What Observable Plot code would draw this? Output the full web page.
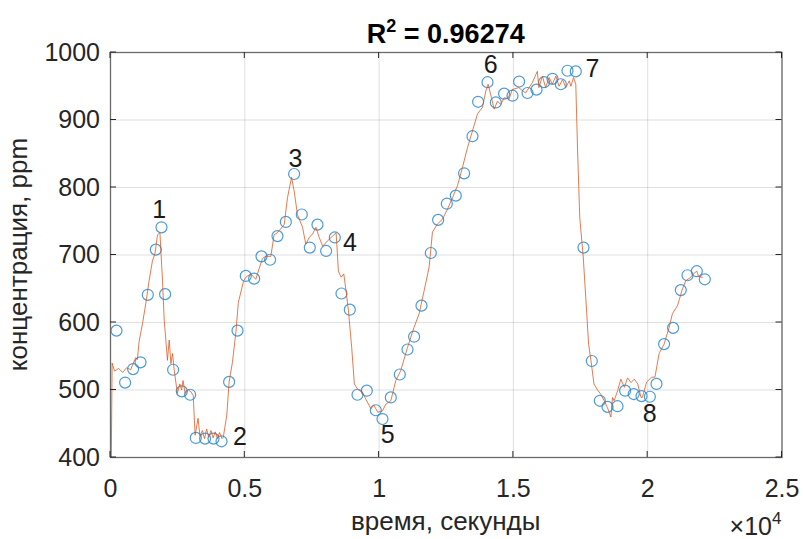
<!DOCTYPE html>
<html><head><meta charset="utf-8">
<script src="https://cdn.jsdelivr.net/npm/d3@7"></script>
<script src="https://cdn.jsdelivr.net/npm/@observablehq/plot@0.6"></script>
<style>body{margin:0;background:#fff} svg{display:block}</style>
</head><body><div id="chart"></div>
<script>
// Measured samples (circles)
const pointTime = [223,544,842,1117,1389,1687,1898,2033,2331,2655,2965,3176,3522,3835,4133,4416,4728,5037,5347,5622,5942,6217,6527,6836,7122,7420,7706,8027,8351,8600,8909,9196,9542,9877,10126,10436,10771,11057,11303,11578,11925,12197,12521,12856,13165,13477,13686,14036,14345,14654,14967,15212,15525,15860,16143,16456,16765,17014,17323,17610,17919,18217,18504,18876,19160,19480,19770,20080,20327,20610,20946,21232,21482,21828,22126];
const pointValue = [588,511,531,541,641,708,741,642,530,498,493,429,428,428,424,512,588,669,665,698,693,728,749,820,760,711,745,706,726,643,619,493,499,470,457,489,523,560,579,625,703,752,776,788,821,876,927,956,926,939,936,957,940,945,956,961,953,973,972,711,543,484,475,476,499,494,491,490,509,568,592,648,670,676,664];
// Model curve (orange line)
const lineTime = [30,60,150,300,450,600,750,850,940,1000,1065,1190,1330,1437,1560,1660,1750,1840,1936,2000,2060,2120,2185,2250,2310,2370,2490,2580,2650,2700,2780,2900,3000,3080,3150,3260,3330,3420,3500,3580,3660,3740,3820,3900,3980,4060,4150,4200,4330,4416,4540,4670,4760,4830,4950,5037,5223,5410,5534,5660,5780,5970,6090,6217,6466,6590,6740,6836,6960,7150,7270,7400,7520,7650,7770,7900,8080,8270,8400,8485,8585,8685,8770,8860,8980,9080,9200,9390,9510,9700,9800,9950,10126,10250,10436,10622,10808,11057,11303,11490,11676,11862,11987,12173,12360,12546,12733,12919,13105,13291,13477,13663,13850,13974,14060,14184,14283,14407,14531,14655,14841,14953,15200,15450,15700,15890,15950,16080,16200,16330,16450,16580,16700,16830,16950,17080,17140,17240,17323,17390,17470,17600,17700,17800,17900,18000,18130,18250,18380,18500,18630,18690,18750,18880,19000,19130,19250,19380,19500,19630,19750,19800,19962,20150,20270,20425,20610,20800,20920,21110,21295,21420,21600,21700,21828,21900,22040];
const lineValue = [400,540,528,532,526,533,530,540,548,545,572,598,632,662,691,703,730,733,662,603,574,544,574,539,554,530,495,509,500,514,495,500,497,492,433,458,432,440,428,442,430,440,429,438,428,437,428,430,463,512,541,586,630,641,661,667,672,664,680,695,698,698,730,733,745,785,815,795,760,741,716,726,731,741,726,713,721,728,733,676,667,672,647,617,563,509,501,496,486,472,478,467,469,479,484,514,529,563,593,613,647,682,734,746,753,768,785,803,830,859,884,909,919,943,953,933,916,928,923,933,931,945,948,940,955,972,948,965,948,963,953,965,950,960,948,958,950,963,953,854,756,697,633,568,540,509,500,494,484,474,460,489,484,499,516,504,518,511,516,509,489,489,512,519,519,554,568,593,613,625,650,662,667,672,676,668,667];
// Peak annotations
const peakLabels = ["1","2","3","4","5","6","7","8"];
const peakTime = [1809,4820,6888,8917,10324,14158,17945,20071];
const peakValue = [767,431,842,718,434,982,975,464];
// Axes
const xTicks = [0,5000,10000,15000,20000,25000];
const xTickLabels = ["0","0.5","1","1.5","2","2.5"];
const yTicks = [400,500,600,700,800,900,1000];
const yTickLabels = ["400","500","600","700","800","900","1000"];
const titleMain = "R";
const titleSup = "2";
const titleRest = " = 0.96274";
const xLabel = "время, секунды";
const yLabel = "концентрация, ppm";
const xExpBase = "×10";
const xExpPow = "4";

const points = pointTime.map((t,i)=>({t, v: pointValue[i]}));
const curve = lineTime.map((t,i)=>({t, v: lineValue[i]}));
const labels = peakLabels.map((s,i)=>({s, t: peakTime[i], v: peakValue[i]}));

const W = 803, H = 539, mL = 110, mR = 21.5, mT = 52, mB = 82;
const font = "'Liberation Sans', Arial, Helvetica, sans-serif";
const ink = "#262626";

const chart = Plot.plot({
  width: W, height: H,
  marginLeft: mL, marginRight: mR, marginTop: mT, marginBottom: mB,
  style: {fontFamily: font, color: ink, background: "#fff", overflow: "visible"},
  x: {domain: [0, 25000]},
  y: {domain: [400, 1000]},
  marks: [
    Plot.gridX(xTicks, {stroke: ink, strokeOpacity: 0.15}),
    Plot.gridY(yTicks, {stroke: ink, strokeOpacity: 0.15}),
    Plot.axisX(xTicks, {tickSize: 0, tickPadding: 22, fontSize: 25, label: null,
      tickFormat: d => xTickLabels[xTicks.indexOf(d)]}),
    Plot.axisY(yTicks, {tickSize: 0, tickPadding: 10.5, fontSize: 25, label: null,
      tickFormat: d => yTickLabels[yTicks.indexOf(d)]}),
    Plot.dot(points, {x: "t", y: "v", r: 5.5, stroke: "#2b8ad0", strokeOpacity: 0.85, strokeWidth: 1.2, fill: "none"}),
    Plot.line(curve, {x: "t", y: "v", stroke: "#D95319", strokeWidth: 0.9, strokeOpacity: 0.85}),
    Plot.text(labels, {x: "t", y: "v", text: "s", fontSize: 25, fill: "#1a1a1a"}),
    Plot.frame({stroke: "#6a6a6a", strokeWidth: 1.3})
  ]
});

const svg = d3.select(chart);
const sx = chart.scale("x"), sy = chart.scale("y");
const fTop = mT, fBottom = H - mB, fLeft = mL, fRight = W - mR;
const tl = 6;
const tg = svg.append("g").attr("stroke", ink).attr("stroke-width", 1);
xTicks.forEach(t => {
  const px = sx.apply(t);
  tg.append("line").attr("x1", px).attr("x2", px).attr("y1", fBottom).attr("y2", fBottom - tl);
  tg.append("line").attr("x1", px).attr("x2", px).attr("y1", fTop).attr("y2", fTop + tl);
});
yTicks.forEach(v => {
  const py = sy.apply(v);
  tg.append("line").attr("y1", py).attr("y2", py).attr("x1", fLeft).attr("x2", fLeft + tl);
  tg.append("line").attr("y1", py).attr("y2", py).attr("x1", fRight).attr("x2", fRight - tl);
});

const cx = (fLeft + fRight) / 2;
const title = svg.append("text").attr("x", cx).attr("y", 43).attr("text-anchor", "middle")
  .attr("font-family", font).attr("font-size", 27).attr("font-weight", "bold").attr("fill", "#000");
title.append("tspan").text(titleMain);
title.append("tspan").attr("font-size", 18).attr("dy", -11).text(titleSup);
title.append("tspan").attr("dy", 11).text(titleRest);

svg.append("text").attr("x", cx).attr("y", 530).attr("text-anchor", "middle")
  .attr("font-family", font).attr("font-size", 26).attr("fill", ink).text(xLabel);

svg.append("text").attr("transform", `translate(27,${(fTop + fBottom) / 2}) rotate(-90)`)
  .attr("text-anchor", "middle").attr("font-family", font).attr("font-size", 26).attr("fill", ink).text(yLabel);

const ex = svg.append("text").attr("x", fRight).attr("y", 535).attr("text-anchor", "end")
  .attr("font-family", font).attr("font-size", 25).attr("fill", ink);
ex.append("tspan").text(xExpBase);
ex.append("tspan").attr("font-size", 17).attr("dy", -11).text(xExpPow);

document.getElementById("chart").appendChild(chart);
</script>
</body></html>
